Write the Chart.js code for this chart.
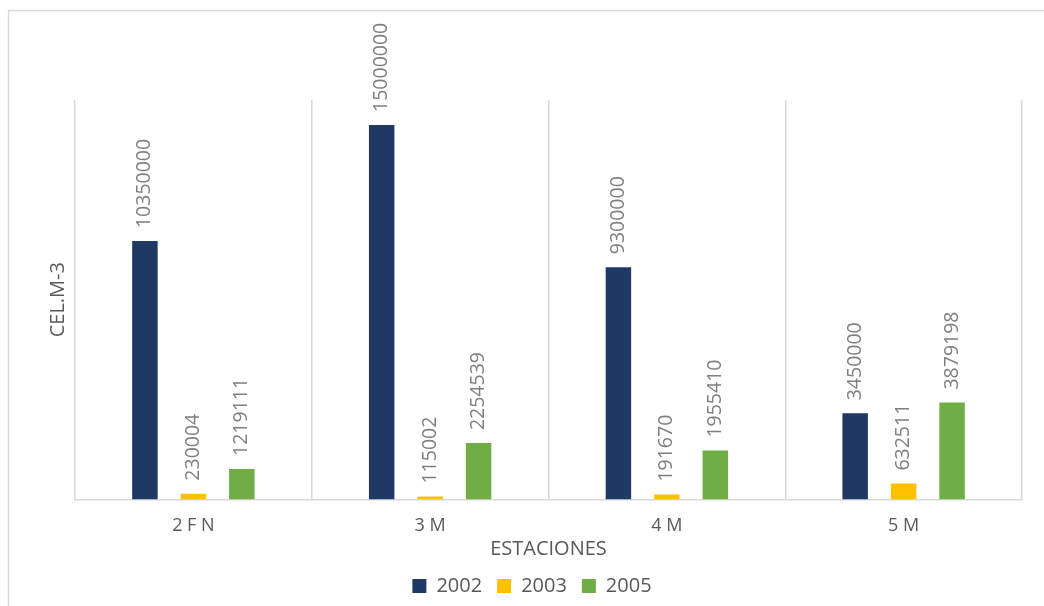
<!DOCTYPE html>
<html>
<head>
<meta charset="utf-8">
<script src="https://cdn.jsdelivr.net/npm/chart.js@4.4.0/dist/chart.umd.min.js"></script>
<style>
  html, body { margin: 0; padding: 0; background: #fff; }
  #wrap { position: relative; width: 1044px; height: 606px; }
</style>
</head>
<body>
<div id="wrap"><canvas id="chart" width="1044" height="606"></canvas></div>
<script>
// chart data
const estaciones = ['2 F N', '3 M', '4 M', '5 M'];
const serie2002 = [10350000, 15000000, 9300000, 3450000];
const serie2003 = [230004, 115002, 191670, 632511];
const serie2005 = [1219111, 2254539, 1955410, 3879198];

const GRID = '#d9d9d9';
const FONT = "'Open Sans', 'Liberation Sans', sans-serif";

// light frame round the chart, like the spreadsheet chart box
const framePlugin = {
  id: 'frame',
  beforeDraw(chart) {
    const ctx = chart.ctx;
    ctx.save();
    ctx.strokeStyle = GRID;
    ctx.lineWidth = 1.5;
    ctx.beginPath();
    ctx.moveTo(8.5, 606);
    ctx.lineTo(8.5, 10.5);
    ctx.lineTo(1044, 10.5);
    ctx.stroke();
    ctx.restore();
  }
};

// rotated value labels above each bar
const valueLabels = {
  id: 'valueLabels',
  afterDatasetsDraw(chart) {
    const ctx = chart.ctx;
    ctx.save();
    ctx.font = '19.5px ' + FONT;
    ctx.fillStyle = '#7f7f7f';
    ctx.textAlign = 'left';
    ctx.textBaseline = 'middle';
    chart.data.datasets.forEach((ds, i) => {
      const meta = chart.getDatasetMeta(i);
      meta.data.forEach((bar, j) => {
        ctx.save();
        ctx.translate(bar.x, bar.y - 13);
        ctx.rotate(-Math.PI / 2);
        ctx.fillText(String(ds.data[j]), 0, 0);
        ctx.restore();
      });
    });
    ctx.restore();
  }
};

new Chart(document.getElementById('chart'), {
  type: 'bar',
  data: {
    labels: estaciones,
    datasets: [
      { label: '2002', data: serie2002, backgroundColor: '#1f3864' },
      { label: '2003', data: serie2003, backgroundColor: '#ffc000' },
      { label: '2005', data: serie2005, backgroundColor: '#70ad47' }
    ]
  },
  options: {
    responsive: false,
    animation: false,
    datasets: {
      bar: { categoryPercentage: 0.614, barPercentage: 0.526 }
    },
    layout: { padding: { left: 42, right: 22, top: 100, bottom: 0 } },
    scales: {
      x: {
        grid: { color: GRID, lineWidth: 1.5, drawTicks: false, offset: true },
        border: { color: GRID, width: 1.5 },
        ticks: { color: '#595959', font: { family: FONT, size: 18 }, padding: 16 },
        title: {
          display: true, text: 'ESTACIONES', color: '#595959',
          font: { family: FONT, size: 20 }, padding: { top: 2, bottom: 0 }
        },
        afterFit(scale) { scale.height -= 18; }
      },
      y: {
        min: 0,
        max: 16000000,
        grid: { display: false },
        border: { display: false },
        ticks: { display: false },
        title: {
          display: true, text: 'CEL.M-3', color: '#595959',
          font: { family: FONT, size: 20 }, padding: { top: 4, bottom: 6 }
        },
        afterFit(scale) { scale.width -= 9; }
      }
    },
    plugins: {
      legend: {
        position: 'bottom',
        labels: {
          color: '#595959', font: { family: FONT, size: 20 },
          boxWidth: 14, boxHeight: 14, padding: 15
        }
      },
      tooltip: { enabled: false }
    }
  },
  plugins: [framePlugin, valueLabels]
});
</script>
</body>
</html>
